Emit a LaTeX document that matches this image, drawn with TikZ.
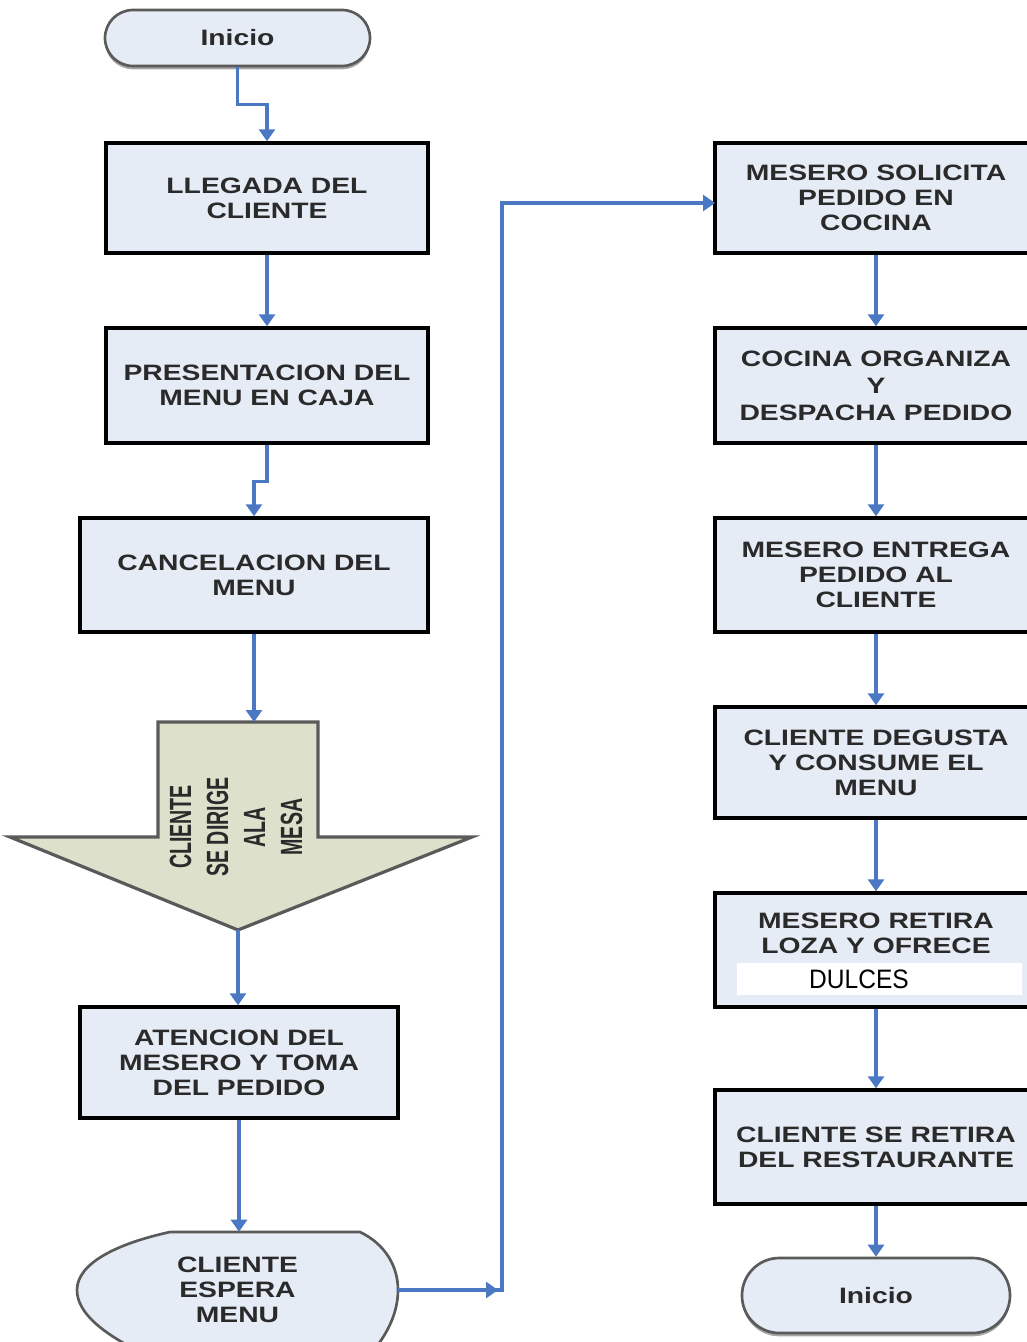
\documentclass[tikz,border=0pt]{standalone}
\usepackage{fontspec}
\usetikzlibrary{arrows.meta,shadows}
\newfontfamily\boxfontfam[FakeStretch=1.27]{Liberation Sans}
\newfontfamily\narrowfam[FakeStretch=0.64]{Liberation Sans}
\newfontfamily\dulcesfam[FakeStretch=0.92]{Liberation Sans}
\definecolor{boxfill}{HTML}{E6ECF6}
\definecolor{flowblue}{HTML}{4A78C2}
\definecolor{arrowfill}{HTML}{DDE0CA}
\definecolor{textdark}{HTML}{2A2A2A}
\definecolor{edgegray}{HTML}{5A5A5A}
\begin{document}
\begin{tikzpicture}[x=0.75pt,y=-0.75pt,
  boxtext/.style={align=center, text=textdark, font=\boxfontfam\bfseries\fontsize{16.7}{18.75}\selectfont},
  procbox/.style={boxtext, draw=black, line width=2.6pt, fill=boxfill, inner sep=0pt},
  term/.style={boxtext, draw=edgegray, line width=2pt, fill=boxfill, inner sep=0pt,
    drop shadow={shadow xshift=0pt, shadow yshift=-2.5pt, fill=gray!70, opacity=1}},
  flow/.style={draw=flowblue, line width=2.5pt, -{Triangle[length=9pt,width=12pt]}},
]
\useasboundingbox (0,0) rectangle (1027,1342);

% left column
\node[term, minimum width=198.75pt, minimum height=42pt, rounded corners=21pt] (inicio) at (237.5,38) {Inicio};
\node[procbox, minimum width=241.5pt, minimum height=82.5pt] (llegada) at (267,198) {LLEGADA DEL\\CLIENTE};
\node[procbox, minimum width=241.5pt, minimum height=86.25pt] (presentacion) at (267,385.5) {PRESENTACION DEL\\MENU EN CAJA};
\node[procbox, minimum width=261pt, minimum height=85.5pt] (cancelacion) at (254,575) {CANCELACION DEL\\MENU};

% block arrow
\draw[line width=2.4pt, draw=edgegray, fill=arrowfill, line join=miter]
  (158,722) -- (318,722) -- (318,837) -- (472,837) -- (238,930) -- (10,837) -- (158,837) -- cycle;
\coordinate (arrowtop) at (254,722);
\coordinate (arrowtip) at (238,930);
\node[rotate=90, align=center, text=textdark, font=\narrowfam\bfseries\fontsize{23}{27.75}\selectfont] (dirige) at (236,827) {CLIENTE\\SE DIRIGE\\ALA\\MESA};

\node[procbox, minimum width=238.5pt, minimum height=83.25pt] (atencion) at (239,1062.5) {ATENCION DEL\\MESERO Y TOMA\\DEL PEDIDO};

% cliente espera menu shape
\draw[line width=2pt, draw=edgegray, fill=boxfill]
  (170,1232) -- (360,1232) .. controls (385,1244) and (398,1266) .. (398,1290)
  .. controls (398,1314) and (386,1336) .. (372,1352) -- (140,1352)
  .. controls (105,1334) and (77,1314) .. (77,1290)
  .. controls (77,1264) and (115,1244) .. (170,1232) -- cycle;
\node[boxtext, minimum width=240.75pt, minimum height=87pt, inner sep=0pt] (espera) at (237.5,1290) {CLIENTE\\ESPERA\\MENU};

% right column
\node[procbox, minimum width=241.5pt, minimum height=82.5pt] (solicita) at (876,198) {MESERO SOLICITA\\PEDIDO EN\\COCINA};
\node[procbox, minimum width=241.5pt, minimum height=86.25pt] (cocina) at (876,385.5) {COCINA ORGANIZA\\[1.5pt]Y\\[1.5pt]DESPACHA PEDIDO};
\node[procbox, minimum width=241.5pt, minimum height=85.5pt] (entrega) at (876,575) {MESERO ENTREGA\\PEDIDO AL\\CLIENTE};
\node[procbox, minimum width=241.5pt, minimum height=83.25pt] (degusta) at (876,762.5) {CLIENTE DEGUSTA\\Y CONSUME EL\\MENU};
\node[procbox, minimum width=241.5pt, minimum height=85.5pt] (retira) at (876,950) {};
\node[boxtext] (retiratext) at (876,933) {MESERO RETIRA\\LOZA Y OFRECE};
\node[fill=white, minimum width=213.75pt, minimum height=24pt, inner sep=0pt] (dulcesbg) at (879.5,979) {};
\node[text=black, font=\dulcesfam\fontsize{20}{24}\selectfont, inner sep=0pt] (dulces) at (859,979) {DULCES};
\node[procbox, minimum width=241.5pt, minimum height=85.5pt] (sale) at (876,1147) {CLIENTE SE RETIRA\\DEL RESTAURANTE};
\node[term, minimum width=201pt, minimum height=56.25pt, rounded corners=28pt] (fin) at (876,1295.5) {Inicio};

% connectors
\draw[flow] (inicio.south) -- ++(0,37) -| (llegada.north);
\draw[flow] (llegada.south) -- (presentacion.north);
\draw[flow] (presentacion.south) -- ++(0,37) -| (cancelacion.north);
\draw[flow] (cancelacion.south) -- (arrowtop);
\draw[flow] (arrowtip) -- (arrowtip |- atencion.north);
\draw[flow] (atencion.south) -- (atencion.south |- espera.north);
\coordinate (turn) at (502,1290);
\coordinate (midtip) at (498,1290);
\coordinate (solin) at (715,203);
\draw[flow] (espera.east) -- (midtip);
\draw[flow] (espera.east) -- (turn) |- (solin);
\draw[flow] (solicita.south) -- (cocina.north);
\draw[flow] (cocina.south) -- (entrega.north);
\draw[flow] (entrega.south) -- (degusta.north);
\draw[flow] (degusta.south) -- (retira.north);
\draw[flow] (retira.south) -- (sale.north);
\draw[flow] (sale.south) -- (fin.north);
\end{tikzpicture}
\end{document}
